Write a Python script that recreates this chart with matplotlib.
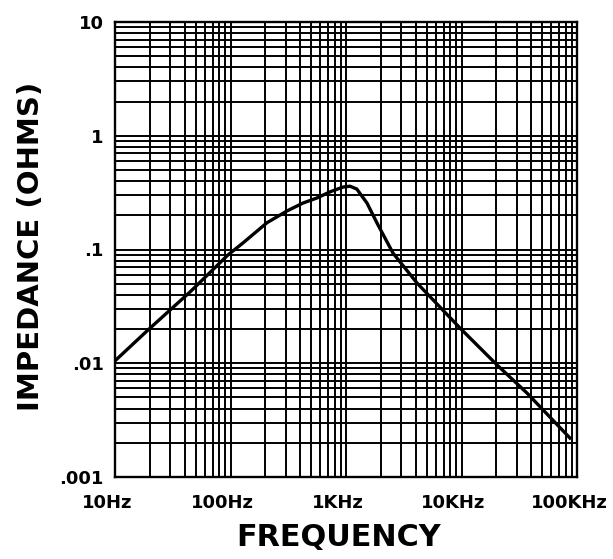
import numpy as np
import matplotlib
matplotlib.use("Agg")
import matplotlib.pyplot as plt
import matplotlib.transforms as mtransforms
from matplotlib.ticker import FixedLocator, FixedFormatter, LogLocator, NullFormatter

# impedancia vs frecuencia
freq_hz = [10, 19.3, 44.6, 95, 128, 207, 308, 424, 561, 726, 942, 1084, 1240,
           1520, 1855, 2552, 4120, 9700, 20300, 36900, 86900]
imp_ohm = [0.0105, 0.0196, 0.0423, 0.0895, 0.114, 0.172, 0.218, 0.256, 0.284,
           0.321, 0.354, 0.36, 0.34, 0.256, 0.171, 0.093, 0.0507, 0.0204,
           0.00966, 0.00547, 0.0022]

x_ticks = [10, 100, 1e3, 1e4, 1e5]
x_labels = ["10Hz", "100Hz", "1KHz", "10KHz", "100KHz"]
y_ticks = [0.001, 0.01, 0.1, 1, 10]
y_labels = [".001", ".01", ".1", "1", "10"]

plt.rcParams['font.family'] = ['DejaVu Sans']

fig = plt.figure(figsize=(6.13, 5.59), dpi=100)
ax = fig.add_axes([115/613, 1 - 477/559, 462/613, 455/559])

ax.set_xscale('log')
ax.set_yscale('log')
ax.set_xlim(10, 1e5)
ax.set_ylim(0.001, 10)

ax.xaxis.set_major_locator(FixedLocator(x_ticks))
ax.xaxis.set_major_formatter(FixedFormatter(x_labels))
ax.yaxis.set_major_locator(FixedLocator(y_ticks))
ax.yaxis.set_major_formatter(FixedFormatter(y_labels))
ax.xaxis.set_minor_locator(LogLocator(base=10, subs=np.arange(2, 10), numticks=20))
ax.yaxis.set_minor_locator(LogLocator(base=10, subs=np.arange(2, 10), numticks=20))
ax.xaxis.set_minor_formatter(NullFormatter())
ax.yaxis.set_minor_formatter(NullFormatter())

ax.grid(True, which='both', color='black', lw=1.4)
ax.tick_params(which='both', length=0)
ax.tick_params(axis='x', pad=12, labelsize=13)
ax.tick_params(axis='y', pad=8, labelsize=13)

# las etiquetas del eje x están algo corridas a la izquierda en el original
shift = mtransforms.ScaledTranslation(-0.08, 0, fig.dpi_scale_trans)
for lab in ax.get_xticklabels():
    lab.set_fontweight('bold')
    lab.set_transform(lab.get_transform() + shift)
for lab in ax.get_yticklabels():
    lab.set_fontweight('bold')
for s in ax.spines.values():
    s.set_linewidth(1.7)

ax.plot(freq_hz, imp_ohm, color='black', lw=2.4, zorder=3)

fig.text(31/613, 1 - 246/559, "IMPEDANCE (OHMS)", rotation=90, ha='center',
         va='center', fontsize=21, fontweight='bold')
fig.text(339/613, 1 - 538/559, "FREQUENCY", ha='center', va='center',
         fontsize=21.8, fontweight='bold')

fig.savefig("out.png", dpi=100)
